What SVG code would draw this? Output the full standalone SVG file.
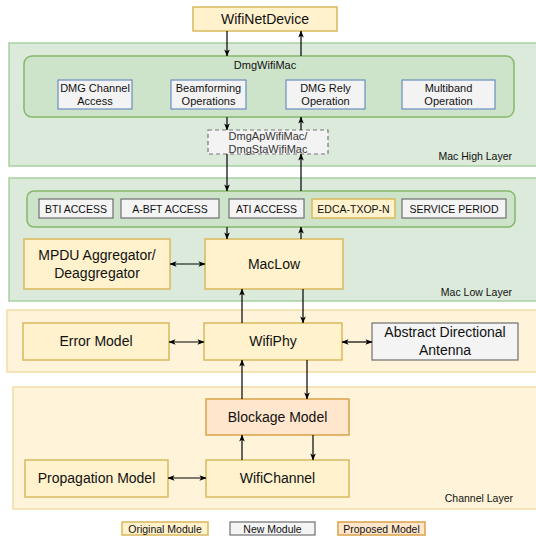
<svg xmlns="http://www.w3.org/2000/svg" width="536" height="537" viewBox="0 0 536 537">
  <defs>
    <marker id="ah" viewBox="0 0 8 8" refX="7.5" refY="4" markerWidth="7" markerHeight="7" markerUnits="userSpaceOnUse" orient="auto-start-reverse">
      <path d="M0,0.8 L8,4 L0,7.2 L2,4 Z" fill="#000"/>
    </marker>
    <style>
      text { font-family: "Liberation Sans", Arial, Helvetica, sans-serif; fill: #111; text-anchor: middle; }
      .layerG { fill: #dbeada; stroke: #a9d1a1; stroke-width: 1.5; }
      .layerY { fill: #fff4d9; stroke: #f2dca6; stroke-width: 1.5; }
      .grp { fill: #cde4cb; stroke: #86b76b; stroke-width: 1.5; }
      .orig { fill: #fff2cc; stroke: #d9b95e; stroke-width: 1.5; }
      .prop { fill: #ffe6cc; stroke: #dba24a; stroke-width: 1.5; }
      .new { fill: #f4f4f4; stroke: #6f6f6f; stroke-width: 1.2; }
      .sub { fill: #f3f3f3; stroke: #6c8ebf; stroke-width: 1.2; }
      .dash { fill: #f3f3f3; stroke: #777; stroke-width: 1.2; stroke-dasharray: 4 3; }
      .t14 { font-size: 14px; }
      .t11 { font-size: 11px; }
      .t10 { font-size: 10.5px; }
      .lbl { font-size: 10.5px; text-anchor: end; }
      .gray { fill: #333; }
      #connectors line { stroke: #000; stroke-width: 1.2; }
      .one { marker-end: url(#ah); }
      .two { marker-start: url(#ah); marker-end: url(#ah); }
    </style>
  </defs>

  <!-- layers -->
  <g id="mac-high-layer">
    <rect class="layerG" x="9" y="43" width="535" height="123"/>
    <text class="lbl" x="512" y="160">Mac High Layer</text>
  </g>
  <g id="mac-low-layer">
    <rect class="layerG" x="9" y="178" width="535" height="123"/>
    <text class="lbl" x="512" y="296">Mac Low Layer</text>
  </g>
  <g id="phy-layer">
    <rect class="layerY" x="7" y="310" width="537" height="62"/>
  </g>
  <g id="channel-layer">
    <rect class="layerY" x="13" y="387" width="531" height="122"/>
    <text class="lbl" x="513" y="502">Channel Layer</text>
  </g>

  <!-- top device -->
  <g id="wifinetdevice">
    <rect class="orig" x="193" y="7" width="144" height="24"/>
    <text class="t14" x="265" y="24">WifiNetDevice</text>
  </g>

  <!-- DmgWifiMac group -->
  <g id="dmgwifimac">
    <rect class="grp" x="24" y="56" width="490" height="61" rx="8"/>
    <text class="t11" x="265" y="69">DmgWifiMac</text>
  </g>
  <g id="dmg-channel-access">
    <rect class="sub" x="58" y="80" width="74" height="29"/>
    <text class="t11" x="95" y="92">DMG Channel</text>
    <text class="t11" x="95" y="105">Access</text>
  </g>
  <g id="beamforming-operations">
    <rect class="sub" x="171" y="80" width="75" height="29"/>
    <text class="t11" x="208.5" y="92">Beamforming</text>
    <text class="t11" x="208.5" y="105">Operations</text>
  </g>
  <g id="dmg-rely-operation">
    <rect class="sub" x="286" y="80" width="79" height="29"/>
    <text class="t11" x="325.5" y="92">DMG Rely</text>
    <text class="t11" x="325.5" y="105">Operation</text>
  </g>
  <g id="multiband-operation">
    <rect class="sub" x="402" y="80" width="93" height="29"/>
    <text class="t11" x="448.5" y="92">Multiband</text>
    <text class="t11" x="448.5" y="105">Operation</text>
  </g>

  <g id="dmgap-dmgsta">
    <rect class="dash" x="208" y="130" width="120" height="24"/>
    <text class="t11 gray" x="268" y="140">DmgApWifiMac/</text>
    <text class="t11 gray" x="268" y="153">DmgStaWifiMac</text>
  </g>

  <!-- access periods group -->
  <g id="access-periods">
    <rect class="grp" x="27" y="191" width="488" height="36" rx="7"/>
  </g>
  <g id="bti-access">
    <rect class="new" x="39" y="199" width="74" height="19"/>
    <text class="t10" x="76" y="212.5">BTI ACCESS</text>
  </g>
  <g id="abft-access">
    <rect class="new" x="121" y="199" width="98" height="19"/>
    <text class="t10" x="170" y="212.5">A-BFT ACCESS</text>
  </g>
  <g id="ati-access">
    <rect class="new" x="229" y="199" width="75" height="19"/>
    <text class="t10" x="266.5" y="212.5">ATI ACCESS</text>
  </g>
  <g id="edca-txop-n">
    <rect class="orig" x="312" y="199" width="83" height="19"/>
    <text class="t10" x="353.5" y="212.5">EDCA-TXOP-N</text>
  </g>
  <g id="service-period">
    <rect class="new" x="402" y="199" width="104" height="19"/>
    <text class="t10" x="454" y="212.5">SERVICE PERIOD</text>
  </g>

  <g id="mpdu-aggregator">
    <rect class="orig" x="24" y="239" width="146" height="50"/>
    <text class="t14" x="97" y="260">MPDU Aggregator/</text>
    <text class="t14" x="97" y="278">Deaggregator</text>
  </g>
  <g id="maclow">
    <rect class="orig" x="205" y="239" width="138" height="50"/>
    <text class="t14" x="274" y="269">MacLow</text>
  </g>

  <g id="error-model">
    <rect class="orig" x="23" y="323" width="146" height="37"/>
    <text class="t14" x="96" y="346">Error Model</text>
  </g>
  <g id="wifiphy">
    <rect class="orig" x="204" y="323" width="138" height="37"/>
    <text class="t14" x="273" y="346">WifiPhy</text>
  </g>
  <g id="abstract-directional-antenna">
    <rect class="new" x="372" y="323" width="146" height="37"/>
    <text class="t14" x="445" y="337">Abstract Directional</text>
    <text class="t14" x="445" y="355">Antenna</text>
  </g>

  <g id="blockage-model">
    <rect class="prop" x="206" y="399" width="143" height="36"/>
    <text class="t14" x="277.5" y="422">Blockage Model</text>
  </g>
  <g id="propagation-model">
    <rect class="orig" x="25" y="460" width="143" height="37"/>
    <text class="t14" x="96.5" y="483">Propagation Model</text>
  </g>
  <g id="wifichannel">
    <rect class="orig" x="206" y="460" width="143" height="37"/>
    <text class="t14" x="277.5" y="483">WifiChannel</text>
  </g>

  <!-- legend -->
  <g id="legend-original">
    <rect class="orig" x="122" y="522" width="86" height="13" stroke-width="1.2"/>
    <text class="t10" x="165" y="532.5">Original Module</text>
  </g>
  <g id="legend-new">
    <rect class="new" x="230" y="522" width="85" height="13"/>
    <text class="t10" x="272.5" y="532.5">New Module</text>
  </g>
  <g id="legend-proposed">
    <rect class="prop" x="338" y="522" width="87" height="13" stroke-width="1.2"/>
    <text class="t10" x="381.5" y="532.5">Proposed Model</text>
  </g>

  <!-- connectors -->
  <g id="connectors">
    <line class="one" x1="227" y1="31" x2="227" y2="56"/>
    <line class="one" x1="301" y1="56" x2="301" y2="31"/>
    <line class="one" x1="227" y1="117" x2="227" y2="130"/>
    <line class="one" x1="301" y1="130" x2="301" y2="117"/>
    <line class="one" x1="227" y1="154" x2="227" y2="191"/>
    <line class="one" x1="301" y1="191" x2="301" y2="154"/>
    <line class="one" x1="227" y1="227" x2="227" y2="239"/>
    <line class="one" x1="301" y1="239" x2="301" y2="227"/>
    <line class="one" x1="242" y1="323" x2="242" y2="289"/>
    <line class="one" x1="303" y1="289" x2="303" y2="323"/>
    <line class="one" x1="242" y1="399" x2="242" y2="360"/>
    <line class="one" x1="307" y1="360" x2="307" y2="399"/>
    <line class="one" x1="242" y1="460" x2="242" y2="435"/>
    <line class="one" x1="313" y1="435" x2="313" y2="460"/>
    <line class="two" x1="170" y1="264" x2="205" y2="264"/>
    <line class="two" x1="169" y1="342" x2="204" y2="342"/>
    <line class="two" x1="342" y1="342" x2="372" y2="342"/>
    <line class="two" x1="168" y1="478" x2="206" y2="478"/>
  </g>
</svg>
